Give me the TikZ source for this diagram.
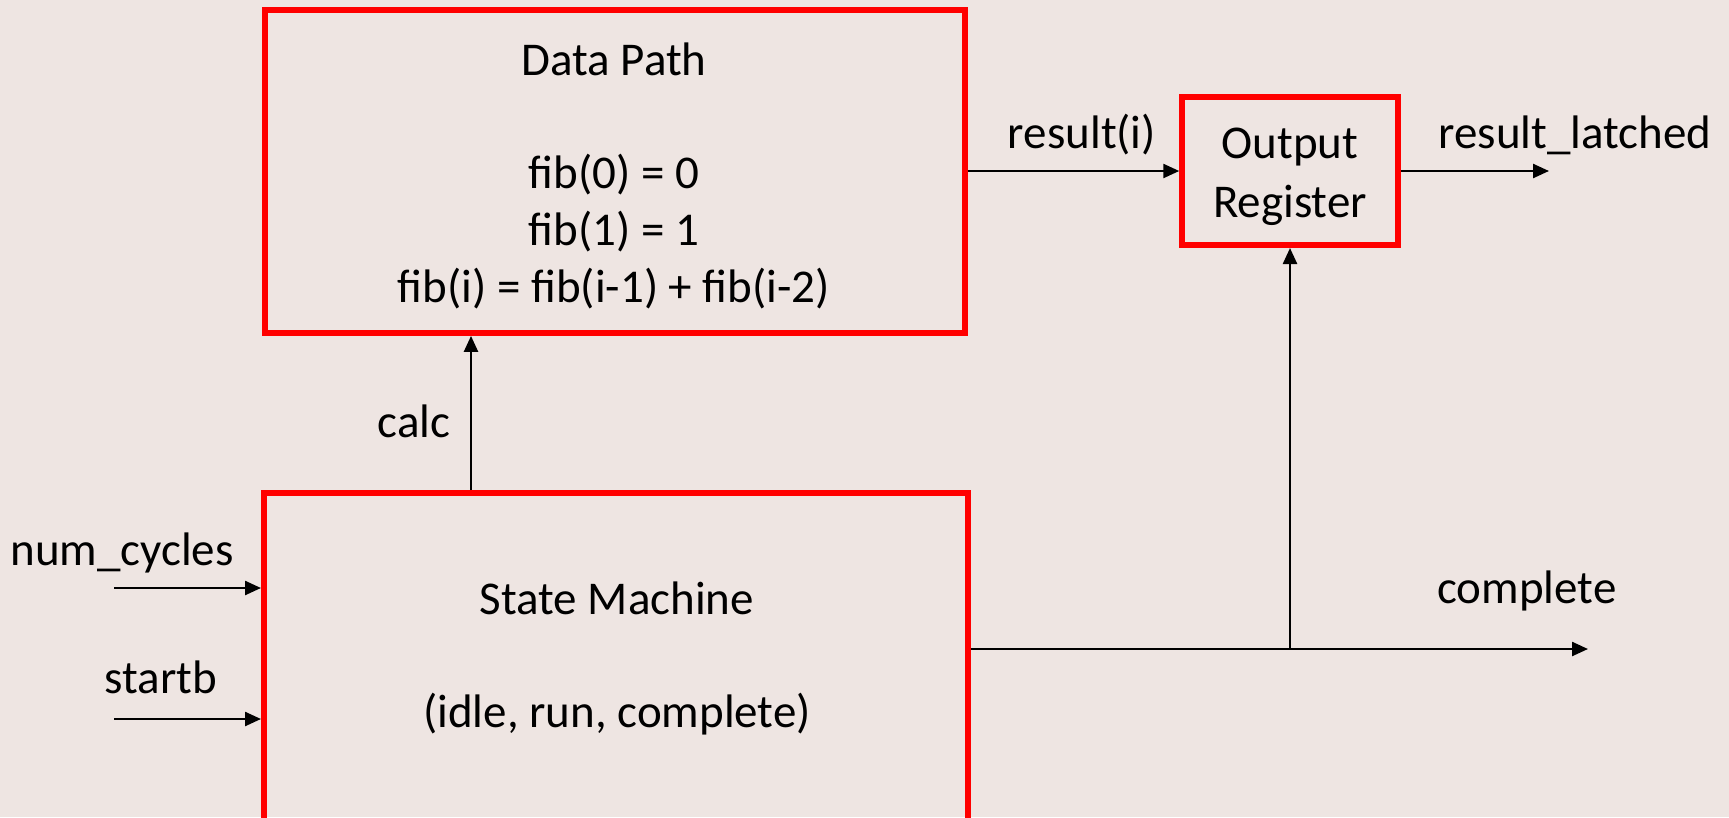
\documentclass[tikz,border=0pt]{standalone}
\usepackage{fontspec}
\setmainfont{Carlito}
\usetikzlibrary{arrows.meta}
\definecolor{bg}{RGB}{238,229,226}
\definecolor{boxred}{RGB}{255,0,0}
\begin{document}
\begin{tikzpicture}[x=1pt,y=-1pt,
  blk/.style={draw=boxred, line width=6pt, inner sep=0pt},
  lbl/.style={font=\fontsize{47}{57}\selectfont, anchor=base, inner sep=0pt},
  sig/.style={line width=2.4pt, -{Triangle[length=16pt,width=14pt]}},
  wire/.style={line width=2.4pt}]
\fill[bg] (0,0) rectangle (1729,817);
\useasboundingbox (0,0) rectangle (1729,817);
\clip (0,0) rectangle (1729,817);
% blocks
\node[blk, minimum width=700pt, minimum height=323pt] (dp) at (614.6,171.4) {};
\node[blk, minimum width=215.5pt, minimum height=148pt] (or) at (1290,171) {};
\node[blk, minimum width=704pt, minimum height=357pt] (sm) at (616,671.5) {};
% block texts
\node[lbl] (dpt) at (614,75) {Data Path};
\node[lbl] (f0) at (614,188) {fib(0) = 0};
\node[lbl] (f1) at (614,245) {fib(1) = 1};
\node[lbl] (fi) at (614,302) {fib(i) = fib(i-1) + fib(i-2)};
\node[lbl] (ort1) at (1290,158) {Output};
\node[lbl] (ort2) at (1290,217) {Register};
\node[lbl] (smt1) at (617,614) {State Machine};
\node[lbl] (smt2) at (617,727) {(idle, run, complete)};
% signal labels
\node[lbl] (lres) at (1082,148) {result(i)};
\node[lbl] (llat) at (1575,148) {result\_latched};
\node[lbl] (lcalc) at (414,437) {calc};
\node[lbl] (lnum) at (122,565) {num\_cycles};
\node[lbl] (lstart) at (161,693) {startb};
\node[lbl] (lcomp) at (1527,603) {complete};
% coordinates
\coordinate (rl) at (1549,171);
\coordinate (calcx) at (471,0);
\coordinate (nc) at (114,588);
\coordinate (sb) at (114,719);
\coordinate (co) at (1588,649);
\coordinate (jn) at (1290,649);
% connectors
\draw[sig] (dp.east |- or.west) -- (or.west);
\draw[sig] (or.east) -- (rl);
\draw[sig] (sm.north -| calcx) -- (dp.south -| calcx);
\draw[sig] (nc) -- (sm.west |- nc);
\draw[sig] (sb) -- (sm.west |- sb);
\draw[sig] (sm.east |- co) -- (co);
\draw[sig] (jn) -- (or.south);
\end{tikzpicture}
\end{document}
